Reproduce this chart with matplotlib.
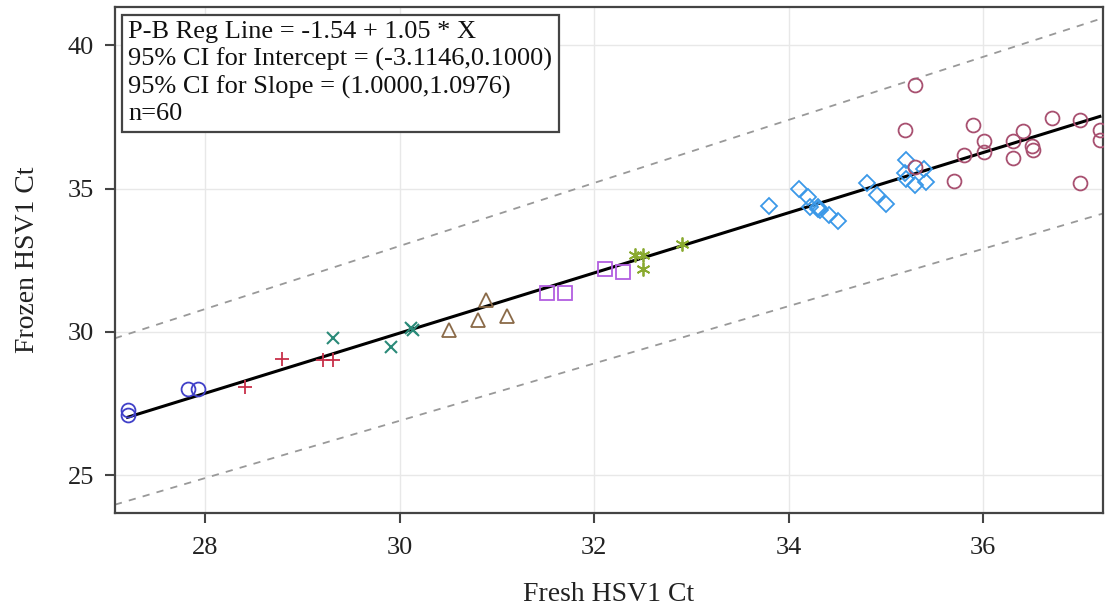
import matplotlib
matplotlib.use("Agg")
import matplotlib.pyplot as plt
import numpy as np

# ---- data ----
circ_blue_x = [27.2, 27.2, 27.82, 27.92]
circ_blue_y = [27.27, 27.10, 27.99, 27.99]

plus_x = [28.41, 28.79, 29.21, 29.31]
plus_y = [28.06, 29.07, 29.03, 29.03]

xmark_x = [29.31, 29.91, 30.11, 30.14]
xmark_y = [29.77, 29.48, 30.12, 30.06]

tri_x = [30.51, 30.80, 30.89, 31.10]
tri_y = [30.06, 30.43, 31.13, 30.55]

sq_x = [31.51, 31.70, 32.11, 32.30]
sq_y = [31.36, 31.36, 32.18, 32.10]

star_x = [32.42, 32.50, 32.50, 32.90]
star_y = [32.67, 32.67, 32.18, 33.08]

dia_x = [33.80, 34.11, 34.20, 34.22, 34.30, 34.32, 34.41, 34.51, 34.81, 34.91,
         35.00, 35.21, 35.20, 35.21, 35.30, 35.39, 35.41, 34.30]
dia_y = [34.38, 35.00, 34.71, 34.36, 34.36, 34.24, 34.07, 33.86, 35.20, 34.77,
         34.45, 35.99, 35.53, 35.35, 35.12, 35.70, 35.23, 34.30]

circ_red_x = [35.30, 35.20, 35.30, 35.70, 35.80, 35.90, 36.01, 36.01, 36.31, 36.31,
              36.41, 36.50, 36.51, 36.71, 37.00, 37.00, 37.20, 37.20]
circ_red_y = [38.60, 37.06, 35.76, 35.27, 36.16, 37.21, 36.66, 36.28, 36.66, 36.07,
              37.00, 36.48, 36.36, 37.48, 37.38, 35.18, 37.04, 36.69]

intercept = -1.54
slope = 1.05
upper_factor = 1.10      # upper dashed line y = 1.10 * x
lower_offset = -3.10     # lower dashed line y = x - 3.10

info_lines = ["P-B Reg Line = -1.54 + 1.05 * X",
              "95% CI for Intercept = (-3.1146,0.1000)",
              "95% CI for Slope = (1.0000,1.0976)",
              "n=60"]

xlim = (27.07, 37.23)
ylim = (23.68, 41.33)
xticks = [28, 30, 32, 34, 36]
yticks = [25, 30, 35, 40]

# ---- figure ----
plt.rcParams['font.family'] = ['Liberation Serif', 'DejaVu Serif']
fig = plt.figure(figsize=(11.05, 6.06), dpi=100)
ax = fig.add_axes([0.104, 0.1535, 0.894, 0.8345])

ax.set_xlim(*xlim)
ax.set_ylim(*ylim)
ax.set_xticks(xticks)
ax.set_yticks(yticks)
ax.grid(True, color='#e8e8e8', lw=1.0, zorder=0)
ax.set_axisbelow(True)

xx = np.array(xlim)
ax.plot(xx, upper_factor * xx, ls=(0, (4, 4)), color='#999999', lw=1.3, zorder=1)
ax.plot(xx, xx + lower_offset, ls=(0, (4, 4)), color='#999999', lw=1.3, zorder=1)

all_x = circ_blue_x + plus_x + xmark_x + tri_x + sq_x + star_x + dia_x + circ_red_x
xr = np.array([min(all_x), max(all_x)])
ax.plot(xr, intercept + slope * xr, color='black', lw=2.2, zorder=3)

ms = 10
ax.plot(circ_blue_x, circ_blue_y, ls='none', marker='o', ms=ms, mfc='none',
        mec='#4040c8', mew=1.3, zorder=4)
ax.plot(plus_x, plus_y, ls='none', marker='+', ms=ms, mec='#c8304a', mew=1.3, zorder=4)
ax.plot(xmark_x, xmark_y, ls='none', marker='x', ms=ms * 0.9, mec='#2a8a78', mew=1.5, zorder=4)
ax.plot(tri_x, tri_y, ls='none', marker='^', ms=ms * 1.05, mfc='none', mec='#8a6a48', mew=1.3, zorder=4)
ax.plot(sq_x, sq_y, ls='none', marker='s', ms=ms * 0.95, mfc='none', mec='#b25ee0', mew=1.3, zorder=4)
ax.plot(star_x, star_y, ls='none', marker=(6, 2, 0), ms=ms, mec='#8aaa30', mew=1.3, zorder=4)
ax.plot(dia_x, dia_y, ls='none', marker='D', ms=ms * 0.85, mfc='none', mec='#3a98e8', mew=1.3, zorder=4)
ax.plot(circ_red_x, circ_red_y, ls='none', marker='o', ms=ms, mfc='none',
        mec='#a85070', mew=1.3, zorder=4)

for s in ax.spines.values():
    s.set_color('#444444')
    s.set_linewidth(1.6)
ax.tick_params(axis='both', direction='out', length=7, width=1.5, color='#444444',
               labelsize=19, labelcolor='#222222', pad=8)
ax.tick_params(axis='x', pad=10)

ax.set_xlabel("Fresh HSV1 Ct", fontsize=20, color='#222222', labelpad=17)
ax.set_ylabel("Frozen HSV1 Ct", fontsize=20, color='#222222', labelpad=20)

ax.text(0.0135, 0.972, "\n".join(info_lines), transform=ax.transAxes,
        ha='left', va='top', fontsize=19, color='#111111', linespacing=1.25,
        bbox=dict(boxstyle='square,pad=0.25', fc='white', ec='#444444', lw=1.6),
        zorder=6)

fig.savefig("out.png", dpi=100)
